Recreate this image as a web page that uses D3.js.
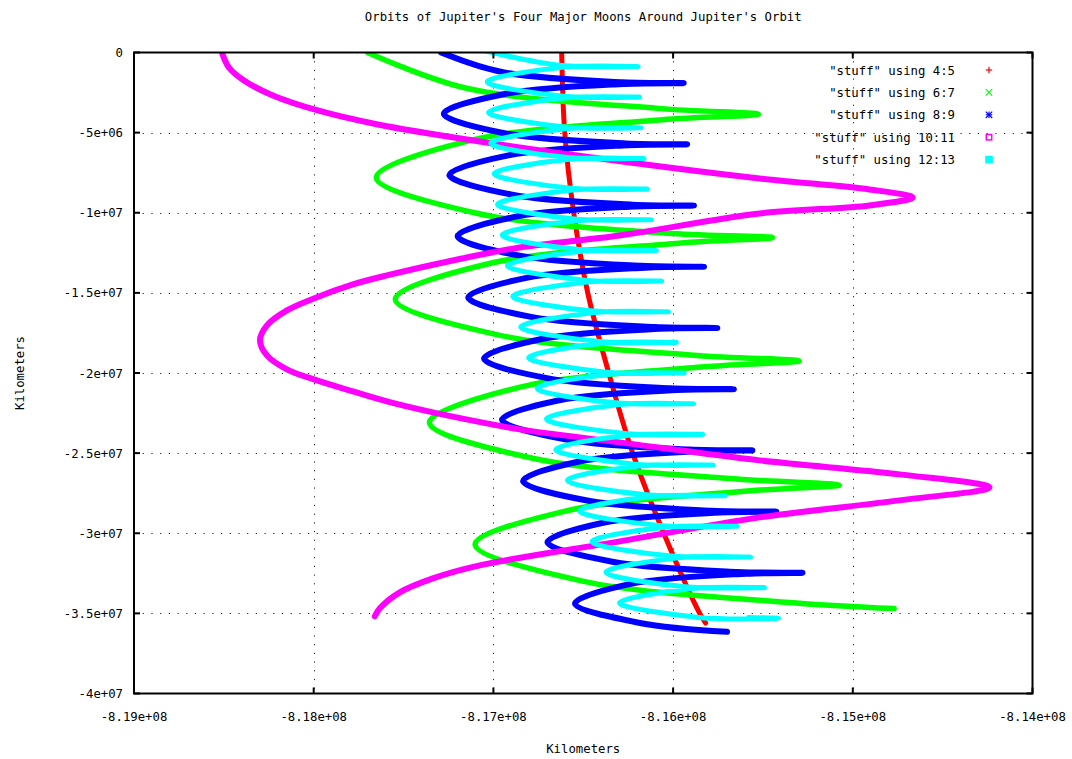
<!DOCTYPE html>
<html><head><meta charset="utf-8">
<script src="https://cdn.jsdelivr.net/npm/d3@7"></script>
<style>
body{margin:0;background:#fff}
text{font-family:"DejaVu Sans Mono","Liberation Mono",monospace;font-size:12.3px;fill:#000}
</style>
</head><body>
<svg id="chart" width="1072" height="759"></svg>
<script>
// ---- text ----
const title = "Orbits of Jupiter's Four Major Moons Around Jupiter's Orbit";
const xTitle = "Kilometers";
const yTitle = "Kilometers";

// ---- axes (values in millions of km) ----
const xDomain = [-819, -814];
const yDomain = [-40, 0];
const xTicks = [-819, -818, -817, -816, -815, -814];
const xTickLabels = ["-8.19e+08", "-8.18e+08", "-8.17e+08", "-8.16e+08", "-8.15e+08", "-8.14e+08"];
const yTicks = [0, -5, -10, -15, -20, -25, -30, -35, -40];
const yTickLabels = ["0", "-5e+06", "-1e+07", "-1.5e+07", "-2e+07", "-2.5e+07", "-3e+07", "-3.5e+07", "-4e+07"];

// ---- legend ----
const seriesNames = ['"stuff" using 4:5', '"stuff" using 6:7', '"stuff" using 8:9', '"stuff" using 10:11', '"stuff" using 12:13'];
const seriesColors = ["#ff0000", "#00ff00", "#0000ff", "#ff00ff", "#00ffff"];
const seriesSymbols = ["plus", "cross", "star", "openSquare", "filledSquare"];

// ---- series: [x, y] in millions of km ----
const jupiter = [[-816.62,0],[-816.603,-5],[-816.553,-10],[-816.475,-15],[-816.358,-20],[-816.225,-25],[-816.052,-30],[-815.852,-35],[-815.819,-35.6]];

const ganymede = [[-817.70,0],[-817.155,-2.218],[-816.07,-3.502],[-815.525,-3.85],[-816.059,-4.198],[-817.126,-5.482],
[-817.652,-7.8],[-817.099,-10.018],[-816.005,-11.302],[-815.447,-11.55],[-815.967,-11.898],[-817.028,-13.182],
[-817.546,-15.4],[-816.976,-17.618],[-815.867,-18.902],[-815.298,-19.25],[-815.806,-19.598],[-816.851,-20.882],
[-817.356,-23.1],[-816.782,-25.318],[-815.662,-26.602],[-815.075,-27.0],[-815.57,-27.348],[-816.605,-28.632],
[-817.102,-30.7],[-816.511,-32.968],[-815.375,-34.302],[-814.77,-34.7]];

const europa = [[-817.291,0],[-816.953,-1.218],[-816.279,-1.854],[-815.941,-1.91],[-816.274,-1.966],[-816.943,-2.602],
[-817.276,-3.82],[-816.938,-5.038],[-816.263,-5.674],[-815.922,-5.73],[-816.251,-5.786],[-816.916,-6.422],
[-817.245,-7.64],[-816.903,-8.858],[-816.226,-9.494],[-815.884,-9.55],[-816.212,-9.606],[-816.874,-10.242],
[-817.199,-11.46],[-816.855,-12.678],[-816.174,-13.314],[-815.828,-13.37],[-816.155,-13.426],[-816.816,-14.062],
[-817.14,-15.28],[-816.79,-16.498],[-816.104,-17.134],[-815.754,-17.19],[-816.075,-17.246],[-816.731,-17.882],
[-817.052,-19.10],[-816.702,-20.318],[-816.015,-20.954],[-815.662,-21.01],[-815.981,-21.066],[-816.634,-21.702],
[-816.952,-22.92],[-816.6,-24.138],[-815.912,-24.774],[-815.559,-24.83],[-815.874,-24.886],[-816.522,-25.522],
[-816.835,-26.74],[-816.478,-27.958],[-815.785,-28.594],[-815.426,-28.65],[-815.74,-28.706],[-816.389,-29.342],
[-816.699,-30.56],[-816.338,-31.778],[-815.642,-32.414],[-815.28,-32.47],[-815.591,-32.526],[-816.236,-33.162],
[-816.546,-34.38],[-816.185,-35.598],[-815.70,-36.15]];

const callisto = [[-818.511,0],[-818.472,-0.936],[-818.388,-1.747],[-818.227,-2.682],[-817.977,-3.618],[-817.643,-4.492],
[-817.076,-5.552],[-816.408,-6.613],[-815.518,-7.860],[-814.907,-8.546],[-814.667,-9.045],[-814.907,-9.545],
[-815.518,-10.044],[-816.297,-11.416],[-816.853,-12.165],[-817.226,-12.976],[-817.593,-13.911],[-817.782,-14.473],
[-817.999,-15.346],[-818.149,-16.095],[-818.260,-17.031],[-818.299,-17.966],[-818.260,-18.902],[-818.149,-19.775],
[-817.999,-20.399],[-817.782,-21.148],[-817.593,-21.772],[-817.337,-22.458],[-817.037,-23.144],[-816.853,-23.518],
[-816.297,-24.329],[-815.518,-25.452],[-814.740,-26.326],[-814.239,-27.136],[-814.740,-27.948],
[-815.518,-29.008],[-816.297,-30.505],[-817.076,-32.002],[-817.337,-32.813],[-817.521,-33.687],[-817.632,-34.685],
[-817.660,-35.184]];

const io = [[-817.042,0.084],[-816.618,-0.816],[-816.195,-0.873],[-816.615,-0.929],
[-817.035,-1.83],[-816.611,-2.73],[-816.187,-2.786],[-816.607,-2.842],
[-817.027,-3.743],[-816.603,-4.643],[-816.179,-4.699],[-816.598,-4.755],
[-817.015,-5.656],[-816.589,-6.556],[-816.162,-6.612],[-816.579,-6.668],
[-816.996,-7.569],[-816.569,-8.469],[-816.143,-8.525],[-816.56,-8.581],
[-816.977,-9.482],[-816.55,-10.382],[-816.121,-10.438],[-816.536,-10.494],
[-816.951,-11.395],[-816.522,-12.295],[-816.093,-12.351],[-816.508,-12.407],
[-816.922,-13.308],[-816.493,-14.208],[-816.064,-14.264],[-816.479,-14.32],
[-816.892,-15.221],[-816.459,-16.121],[-816.026,-16.177],[-816.437,-16.233],
[-816.848,-17.134],[-816.415,-18.034],[-815.982,-18.09],[-816.393,-18.146],
[-816.804,-19.047],[-816.371,-19.947],[-815.938,-20.003],[-816.347,-20.059],
[-816.756,-20.96],[-816.321,-21.86],[-815.886,-21.916],[-816.295,-21.972],
[-816.705,-22.873],[-816.27,-23.773],[-815.835,-23.829],[-816.244,-23.885],
[-816.653,-24.786],[-816.216,-25.686],[-815.777,-25.742],[-816.182,-25.798],
[-816.588,-26.699],[-816.149,-27.599],[-815.71,-27.655],[-816.115,-27.711],
[-816.521,-28.612],[-816.082,-29.512],[-815.643,-29.568],[-816.048,-29.624],
[-816.451,-30.525],[-816.01,-31.425],[-815.569,-31.481],[-815.972,-31.537],
[-816.374,-32.438],[-815.933,-33.338],[-815.492,-33.394],[-815.895,-33.45],
[-816.298,-34.351],[-815.857,-35.251],[-815.413,-35.307],[-815.58,-35.25]];

const seriesData = [jupiter, ganymede, europa, callisto, io];
const seriesWidths = [5, 5.5, 6, 6, 5];

// ---- layout ----
const L = 134, R = 1032.5, T = 52.5, B = 693.5;
const svg = d3.select("#chart");
const x = d3.scaleLinear().domain(xDomain).range([L, R]);
const y = d3.scaleLinear().domain(yDomain).range([B, T]);

// grid
const grid = svg.append("g").attr("stroke", "#222").attr("stroke-width", 1).attr("stroke-dasharray", "1.2,7.5");
grid.selectAll(".gx").data(xTicks.slice(1, -1)).join("line")
  .attr("x1", d => Math.round(x(d)) + 0.5).attr("x2", d => Math.round(x(d)) + 0.5)
  .attr("y1", T).attr("y2", B);
grid.selectAll(".gy").data(yTicks.slice(1, -1)).join("line")
  .attr("y1", d => Math.round(y(d)) + 0.5).attr("y2", d => Math.round(y(d)) + 0.5)
  .attr("x1", L).attr("x2", R);

// clip
svg.append("clipPath").attr("id", "plotclip").append("rect")
  .attr("x", L).attr("y", T).attr("width", R - L).attr("height", B - T);

const line = d3.line().x(d => x(d[0])).y(d => y(d[1])).curve(d3.curveCatmullRom.alpha(0.5));
const plot = svg.append("g").attr("clip-path", "url(#plotclip)");
seriesData.forEach((data, i) => {
  plot.append("path").attr("d", line(data)).attr("fill", "none")
    .attr("stroke", seriesColors[i]).attr("stroke-width", seriesWidths[i])
    .attr("stroke-linejoin", "round").attr("stroke-linecap", "round");
});

// border
svg.append("rect").attr("x", L).attr("y", T).attr("width", R - L).attr("height", B - T)
  .attr("fill", "none").attr("stroke", "#000").attr("stroke-width", 2);

// ticks (mirrored, inward)
const tk = 6;
const ticks = svg.append("g").attr("stroke", "#000").attr("stroke-width", 2);
xTicks.forEach(v => {
  ticks.append("line").attr("x1", x(v)).attr("x2", x(v)).attr("y1", B).attr("y2", B - tk);
  ticks.append("line").attr("x1", x(v)).attr("x2", x(v)).attr("y1", T).attr("y2", T + tk);
});
yTicks.forEach(v => {
  ticks.append("line").attr("y1", y(v)).attr("y2", y(v)).attr("x1", L).attr("x2", L + tk);
  ticks.append("line").attr("y1", y(v)).attr("y2", y(v)).attr("x1", R).attr("x2", R - tk);
});

// tick labels
svg.append("g").selectAll("text").data(xTicks).join("text")
  .attr("x", d => x(d)).attr("y", 721).attr("text-anchor", "middle")
  .text((d, i) => xTickLabels[i]);
svg.append("g").selectAll("text").data(yTicks).join("text")
  .attr("x", 123).attr("y", d => y(d) + 4.5).attr("text-anchor", "end")
  .text((d, i) => yTickLabels[i]);

// titles
svg.append("text").attr("x", (L + R) / 2).attr("y", 21).attr("text-anchor", "middle").text(title);
svg.append("text").attr("x", (L + R) / 2).attr("y", 753).attr("text-anchor", "middle").text(xTitle);
svg.append("text").attr("transform", `translate(24,${(T + B) / 2}) rotate(-90)`).attr("text-anchor", "middle").text(yTitle);

// legend
const lg = svg.append("g");
seriesNames.forEach((name, i) => {
  const cy = 70 + i * 22.4;
  lg.append("text").attr("x", 955).attr("y", cy + 4.5).attr("text-anchor", "end").text(name);
  const sx = 989, s = 3.2, c = seriesColors[i];
  const g = lg.append("g").attr("stroke", c).attr("stroke-width", 1.2).attr("fill", "none");
  const sym = seriesSymbols[i];
  if (sym === "plus" || sym === "star") {
    g.append("line").attr("x1", sx - s).attr("x2", sx + s).attr("y1", cy).attr("y2", cy);
    g.append("line").attr("x1", sx).attr("x2", sx).attr("y1", cy - s).attr("y2", cy + s);
  }
  if (sym === "cross" || sym === "star") {
    g.append("line").attr("x1", sx - s).attr("x2", sx + s).attr("y1", cy - s).attr("y2", cy + s);
    g.append("line").attr("x1", sx - s).attr("x2", sx + s).attr("y1", cy + s).attr("y2", cy - s);
  }
  if (sym === "openSquare") {
    g.append("rect").attr("x", sx - s + 0.5).attr("y", cy - s + 0.5).attr("width", 2 * s - 1).attr("height", 2 * s - 1).attr("stroke-width", 1.5);
  }
  if (sym === "filledSquare") {
    g.append("rect").attr("x", sx - s).attr("y", cy - s).attr("width", 2 * s).attr("height", 2 * s).attr("fill", c);
  }
});
</script>
</body></html>
